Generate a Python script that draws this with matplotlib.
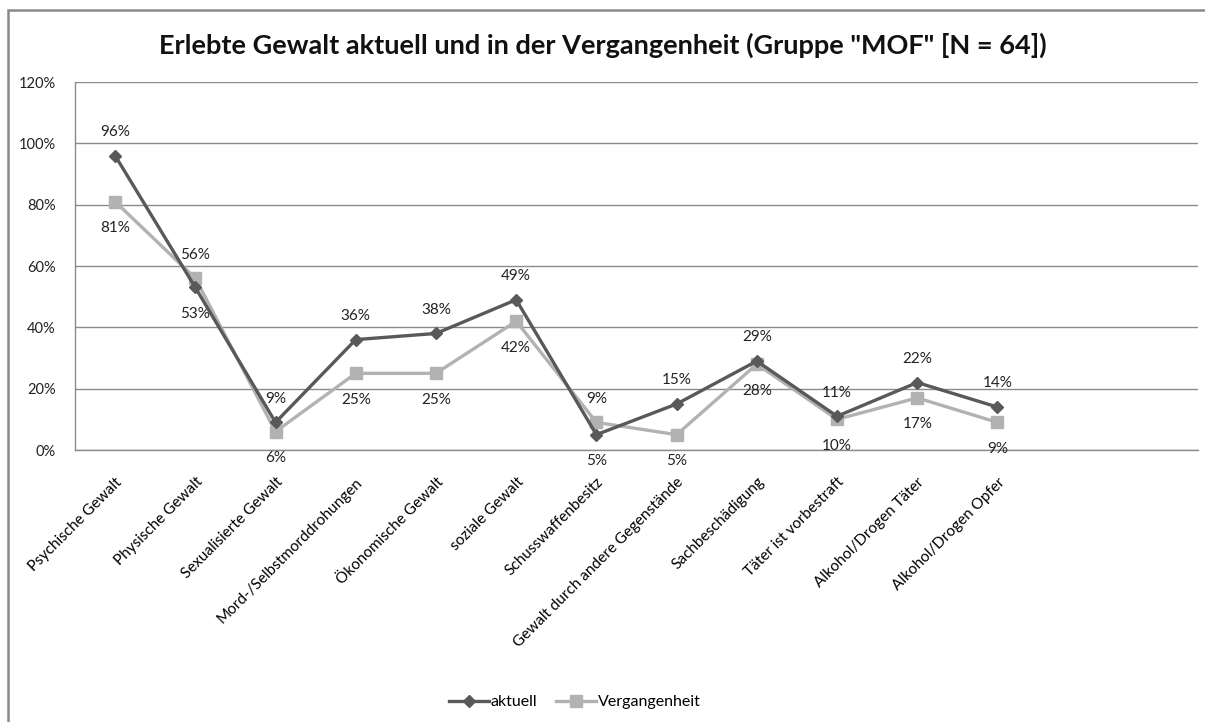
import matplotlib
matplotlib.use("Agg")
import matplotlib.pyplot as plt
from matplotlib.patches import Rectangle
from matplotlib.ticker import FuncFormatter

plt.rcParams['font.family'] = ['Lato', 'DejaVu Sans']

categories = ["Psychische Gewalt", "Physische Gewalt", "Sexualisierte Gewalt",
              "Mord-/Selbstmorddrohungen", "Ökonomische Gewalt", "soziale Gewalt",
              "Schusswaffenbesitz", "Gewalt durch andere Gegenstände",
              "Sachbeschädigung", "Täter ist vorbestraft", "Alkohol/Drogen Täter",
              "Alkohol/Drogen Opfer"]
aktuell = [96, 53, 9, 36, 38, 49, 5, 15, 29, 11, 22, 14]
vergangenheit = [81, 56, 6, 25, 25, 42, 9, 5, 28, 10, 17, 9]
yticks = [0, 20, 40, 60, 80, 100, 120]

W, H = 1205, 722
fig = plt.figure(figsize=(W / 100, H / 100), dpi=100)
fig.patch.set_facecolor("white")

# outer chart frame (cropped on the right and bottom)
fig.patches.append(Rectangle((8 / W, -0.1), 1.2, 1 - 10 / H + 0.1,
                             transform=fig.transFigure, fill=False,
                             edgecolor="#8a8a8a", lw=1.8))

ax = fig.add_axes([75 / W, 1 - 450 / H, (1198 - 75) / W, (450 - 82) / H])
x = list(range(len(categories)))

dark = "#595959"
light = "#b2b2b2"
ax.plot(x, vergangenheit, color=light, lw=2.4, marker="s", ms=8.5,
        label="Vergangenheit", zorder=3)
ax.plot(x, aktuell, color=dark, lw=2.4, marker="D", ms=6.5,
        label="aktuell", zorder=4)

# data labels: higher value above, lower one below
for i in x:
    a, v = aktuell[i], vergangenheit[i]
    for val, other in ((a, v), (v, a)):
        off = 17 if val >= other else -19
        ax.annotate(f"{val}%", (i, val), xytext=(0, off), textcoords="offset points",
                    ha="center", va="center", fontsize=11, color="#222222")

ax.set_xlim(-0.5, 13.5)
ax.set_ylim(0, 120)
ax.set_yticks(yticks)
ax.yaxis.set_major_formatter(FuncFormatter(lambda v, p: f"{int(v)}%"))
ax.grid(axis="y", color="#8a8a8a", lw=1.0)
ax.set_axisbelow(True)
for s in ("top", "right"):
    ax.spines[s].set_visible(False)
for s in ("left", "bottom"):
    ax.spines[s].set_color("#8a8a8a")
    ax.spines[s].set_linewidth(1.0)
ax.tick_params(axis="y", length=0, pad=14, labelsize=10.5, labelcolor="#222222")
ax.tick_params(axis="x", length=0, pad=18, labelsize=11)
ax.set_xticks(x)
ax.set_xticklabels(categories, rotation=45, ha="right", rotation_mode="anchor")

fig.text(0.5, 1 - 45 / H, 'Erlebte Gewalt aktuell und in der Vergangenheit (Gruppe "MOF" [N = 64])',
         ha="center", va="center", fontsize=19.5, fontweight="bold", color="#111111")

h, l = ax.get_legend_handles_labels()
fig.legend(h[::-1], l[::-1], loc="center", bbox_to_anchor=(575 / W, 1 - 702 / H),
           ncol=2, frameon=False, fontsize=11.5, handlelength=2.5, columnspacing=1.2,
           handletextpad=0.1)

fig.savefig("out.png", dpi=100)
